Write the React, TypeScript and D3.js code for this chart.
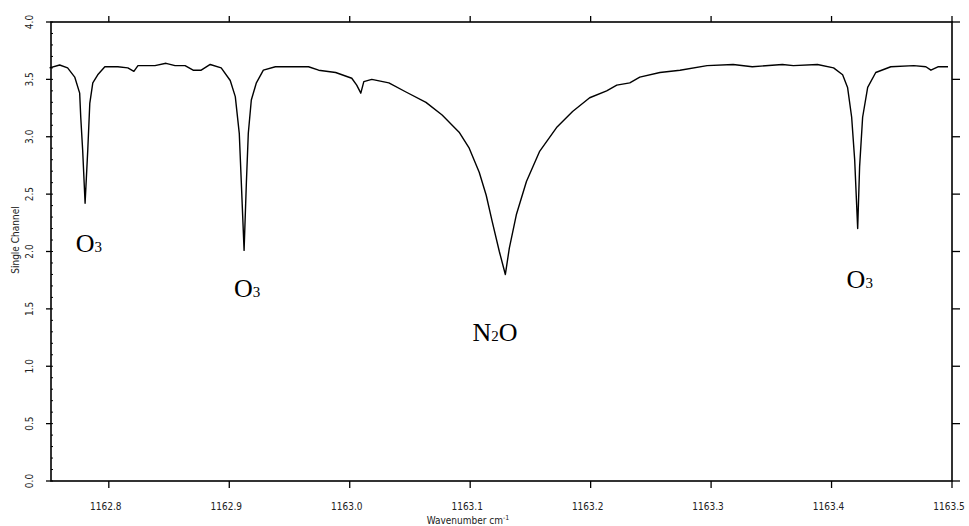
import * as d3 from "d3";

// wavenumber (cm-1) and single channel signal
const wavenumbers = [
  1162.7508, 1162.7592, 1162.7658, 1162.7717, 1162.7758, 1162.7767, 1162.7783,
  1162.7803, 1162.7825, 1162.7842, 1162.7867, 1162.7908, 1162.7967, 1162.8075,
  1162.8158, 1162.8208, 1162.8242, 1162.8383, 1162.8475, 1162.855, 1162.8633,
  1162.87, 1162.8767, 1162.8842, 1162.8933, 1162.9008, 1162.905, 1162.9083,
  1162.91, 1162.9123, 1162.9142, 1162.9158, 1162.9183, 1162.9225, 1162.9283,
  1162.9383, 1162.955, 1162.9658, 1162.9742, 1162.9883, 1163.0017, 1163.0058,
  1163.0092, 1163.0117, 1163.0183, 1163.0325, 1163.0467, 1163.0633, 1163.0767,
  1163.0908, 1163.0992, 1163.1075, 1163.1133, 1163.1183, 1163.1242, 1163.1292,
  1163.1325, 1163.1383, 1163.1467, 1163.1575, 1163.1717, 1163.185, 1163.1992,
  1163.2133, 1163.2217, 1163.2325, 1163.2408, 1163.2575, 1163.2742, 1163.2967,
  1163.3183, 1163.3342, 1163.3592, 1163.3683, 1163.3883, 1163.4017, 1163.4092,
  1163.4133, 1163.4167, 1163.4192, 1163.4217, 1163.4233, 1163.4258, 1163.43,
  1163.4367, 1163.4492, 1163.4683, 1163.4783, 1163.4825, 1163.4883, 1163.4967,
];
const signal = [
  3.6, 3.625, 3.6, 3.52, 3.38, 3.17, 2.88,
  2.42, 2.88, 3.29, 3.47, 3.54, 3.61, 3.61,
  3.6, 3.57, 3.62, 3.62, 3.64, 3.62, 3.62,
  3.58, 3.58, 3.63, 3.6, 3.49, 3.35, 3.03,
  2.6, 2.01, 2.6, 3.03, 3.32, 3.47, 3.58,
  3.61, 3.61, 3.61, 3.58, 3.56, 3.51, 3.45,
  3.38, 3.48, 3.5, 3.47, 3.39, 3.3, 3.19,
  3.04, 2.9, 2.69, 2.49, 2.26, 2.0, 1.8,
  2.03, 2.32, 2.61, 2.87, 3.08, 3.22, 3.34,
  3.4, 3.45, 3.47, 3.52, 3.56, 3.58, 3.62,
  3.63, 3.61, 3.63, 3.62, 3.63, 3.6, 3.54,
  3.43, 3.17, 2.8, 2.2, 2.74, 3.17, 3.43,
  3.56, 3.61, 3.62, 3.61, 3.58, 3.61, 3.61,
];

const xTicks = [1162.8, 1162.9, 1163.0, 1163.1, 1163.2, 1163.3, 1163.4, 1163.5];
const yTicks = [0, 0.5, 1.0, 1.5, 2.0, 2.5, 3.0, 3.5, 4.0];

// molecule labels: main text, subscript, trailing text, anchor point in data units
const labels = [
  { pre: "O", sub: "3", post: "", wn: 1162.7725, v: 2.0 },
  { pre: "O", sub: "3", post: "", wn: 1162.904, v: 1.6 },
  { pre: "N", sub: "2", post: "O", wn: 1163.102, v: 1.22 },
  { pre: "O", sub: "3", post: "", wn: 1163.4125, v: 1.68 },
];

export default function App() {
  const width = 969;
  const height = 526;
  const left = 51;
  const right = 952;
  const top = 22;
  const bottom = 481;

  const x = d3.scaleLinear().domain([1162.752, 1163.5]).range([left, right]);
  const y = d3.scaleLinear().domain([0, 4]).range([bottom, top]);

  const points = wavenumbers.map((w, i) => [w, signal[i]] as [number, number]);
  const line = d3
    .line<[number, number]>()
    .x((d) => x(d[0]))
    .y((d) => y(d[1]));

  const minorY = d3.range(0, 4.001, 0.1);
  const tickFont = "'Liberation Sans Narrow', 'DejaVu Sans Condensed', sans-serif";

  return (
    <svg
      width={width}
      height={height}
      style={{ position: "absolute", left: 0, top: 0, background: "white" }}
    >
      {/* frame */}
      <rect
        x={left}
        y={top}
        width={right - left}
        height={bottom - top}
        fill="none"
        stroke="black"
        strokeWidth={1.6}
      />

      {/* bottom + top ticks */}
      {xTicks.map((t) => (
        <g key={t}>
          <line x1={x(t)} x2={x(t)} y1={bottom} y2={bottom + 7} stroke="black" strokeWidth={1.3} />
          <line x1={x(t)} x2={x(t)} y1={top} y2={top - 6} stroke="black" strokeWidth={1.3} />
          <text
            x={x(t) - 3}
            y={510}
            textAnchor="middle"
            fontSize={10}
            fontFamily={tickFont}
            fill="#222"
          >
            {t.toFixed(1)}
          </text>
        </g>
      ))}

      {/* left + right ticks */}
      {minorY.map((t) => (
        <line key={"m" + t} x1={left} x2={left + 2} y1={y(t)} y2={y(t)} stroke="black" strokeWidth={1} />
      ))}
      {yTicks.map((t) => (
        <g key={t}>
          <line x1={left - 5} x2={left} y1={y(t)} y2={y(t)} stroke="black" strokeWidth={1.3} />
          <line x1={right} x2={right + 8} y1={y(t)} y2={y(t)} stroke="black" strokeWidth={1.3} />
          <text
            transform={`translate(33,${y(t)}) rotate(-90)`}
            textAnchor="middle"
            fontSize={10}
            fontFamily={tickFont}
            fill="#222"
          >
            {t.toFixed(1)}
          </text>
        </g>
      ))}

      {/* axis titles */}
      <text
        transform={`translate(19,${y(2.1)}) rotate(-90)`}
        textAnchor="middle"
        fontSize={10}
        fontFamily={tickFont}
        fill="#222"
      >
        Single Channel
      </text>
      <text x={468} y={524} textAnchor="middle" fontSize={10} fontFamily={tickFont} fill="#222">
        Wavenumber cm
        <tspan dy={-4} fontSize={7}>
          -1
        </tspan>
      </text>

      {/* spectrum */}
      <path d={line(points) ?? ""} fill="none" stroke="black" strokeWidth={1.4} strokeLinejoin="round" />

      {/* molecule labels */}
      {labels.map((l, i) => (
        <text
          key={i}
          x={x(l.wn)}
          y={y(l.v)}
          fontSize={26}
          fontFamily="'Liberation Serif', 'DejaVu Serif', serif"
          fill="black"
        >
          {l.pre}
          <tspan fontSize={15}>{l.sub}</tspan>
          {l.post}
        </text>
      ))}
    </svg>
  );
}
